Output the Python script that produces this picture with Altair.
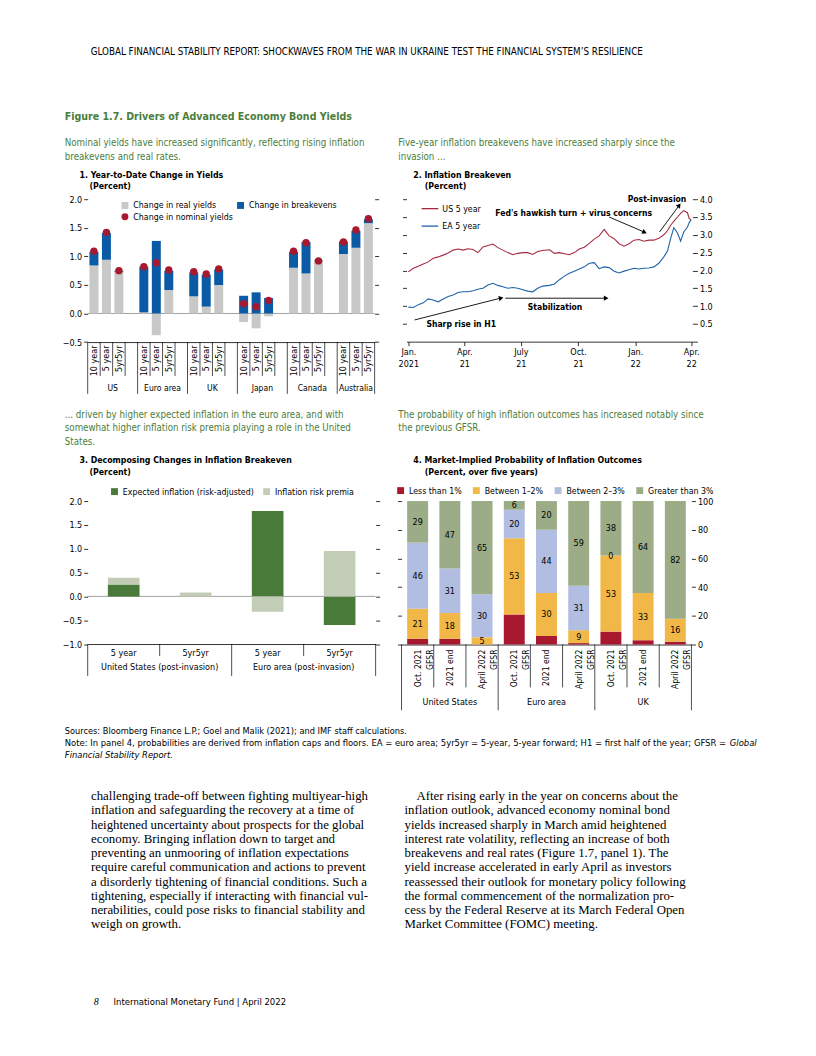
import math
import altair as alt
import pandas as pd

SANS = "Liberation Sans Narrow, DejaVu Sans Condensed, Roboto Condensed, Arial Narrow, sans-serif"
SERIF = "Liberation Serif, DejaVu Serif, serif"
GREEN_TXT = "#4b7d3c"

# ---------------- Panel 1 data ----------------
countries = ["US", "Euro area", "UK", "Japan", "Canada", "Australia"]
maturities = ["10 year", "5 year", "5yr5yr"]
real_yields = [0.84, 0.94, 0.73, 0.02, -0.38, 0.41, 0.30, 0.12, 0.50,
               -0.15, -0.26, -0.05, 0.80, 0.70, 0.92, 1.04, 1.15, 1.58]
breakevens = [0.24, 0.47, 0.02, 0.80, 1.27, 0.34, 0.42, 0.56, 0.27,
              0.31, 0.37, 0.27, 0.28, 0.55, 0.01, 0.22, 0.30, 0.07]
nominal_yields = [1.09, 1.42, 0.75, 0.82, 0.89, 0.76, 0.73, 0.69, 0.78,
                  0.17, 0.12, 0.23, 1.09, 1.24, 0.92, 1.25, 1.46, 1.66]

# ---------------- Panel 2 data ----------------
p2_dates = [
    "2021-01-01", "2021-01-09", "2021-01-17", "2021-01-25", "2021-02-02", "2021-02-10",
    "2021-02-18", "2021-02-26", "2021-03-06", "2021-03-14", "2021-03-22", "2021-03-30",
    "2021-04-07", "2021-04-15", "2021-04-23", "2021-05-01", "2021-05-09", "2021-05-17",
    "2021-05-25", "2021-06-02", "2021-06-10", "2021-06-18", "2021-06-26", "2021-07-04",
    "2021-07-12", "2021-07-20", "2021-07-28", "2021-08-05", "2021-08-16", "2021-08-24",
    "2021-09-01", "2021-09-09", "2021-09-17", "2021-09-25", "2021-10-03", "2021-10-11",
    "2021-10-19", "2021-10-27", "2021-11-04", "2021-11-12", "2021-11-20", "2021-11-28",
    "2021-12-06", "2021-12-14", "2021-12-22", "2021-12-30", "2022-01-07", "2022-01-15",
    "2022-01-23", "2022-01-31", "2022-02-08", "2022-02-16", "2022-02-22", "2022-02-27",
    "2022-03-04", "2022-03-10", "2022-03-15", "2022-03-20", "2022-03-26", "2022-03-29",
    "2022-04-01"]
us_5y = [1.96, 2.06, 2.12, 2.18, 2.24, 2.34, 2.38, 2.43, 2.49, 2.57, 2.60, 2.57,
         2.61, 2.59, 2.50, 2.66, 2.70, 2.74, 2.64, 2.57, 2.50, 2.44, 2.48, 2.50,
         2.50, 2.45, 2.53, 2.56, 2.58, 2.48, 2.50, 2.47, 2.44, 2.50, 2.60, 2.65,
         2.76, 2.88, 2.97, 3.15, 2.97, 2.89, 2.75, 2.68, 2.75, 2.85, 2.87, 2.82,
         2.85, 2.85, 2.90, 3.00, 3.12, 3.27, 3.38, 3.50, 3.60, 3.68, 3.62, 3.45,
         3.43]
ea_5y = [0.97, 0.96, 1.04, 1.09, 1.20, 1.17, 1.12, 1.20, 1.27, 1.31, 1.38, 1.40,
         1.40, 1.43, 1.47, 1.50, 1.59, 1.64, 1.58, 1.54, 1.50, 1.52, 1.50, 1.46,
         1.42, 1.40, 1.50, 1.56, 1.58, 1.62, 1.74, 1.84, 1.92, 1.98, 2.04, 2.10,
         2.20, 2.22, 2.05, 2.10, 2.08, 1.98, 1.93, 1.98, 2.02, 2.06, 2.04, 2.06,
         2.07, 2.10, 2.20, 2.38, 2.55, 2.90, 3.20, 3.05, 2.82, 3.08, 3.22, 3.35,
         3.42]
ann_text = ["Post-invasion", "Fed's hawkish turn + virus concerns", "Stabilization", "Sharp rise in H1"]
ann_date = ["2022-02-05", "2021-09-24", "2021-08-25", "2021-03-27"]
ann_val = [4.01, 3.62, 0.96, 0.49]
arr_date1 = ["2022-02-09", "2021-11-20", "2021-06-06", "2021-01-11"]
arr_val1 = [3.08, 3.50, 1.22, 0.61]
arr_date2 = ["2022-03-12", "2022-01-15", "2021-11-14", "2021-05-29"]
arr_val2 = [3.81, 3.08, 1.22, 1.22]

# ---------------- Panel 3 data ----------------
p3_regions = ["United States (post-invasion)", "Euro area (post-invasion)"]
p3_tenors = ["5 year", "5yr5yr"]
expected_infl = [0.25, 0.00, 1.79, -0.60]
risk_premia = [0.14, 0.08, -0.32, 0.95]

# ---------------- Panel 4 data ----------------
p4_regions = ["United States", "Euro area", "UK"]
p4_vintages = ["Oct. 2021|GFSR", "2021 end", "April 2022|GFSR"]
p4_buckets = ["Less than 1%", "Between 1–2%", "Between 2–3%", "Greater than 3%"]
less_1 = [4, 4, 0, 21, 6, 1, 9, 3, 2]
btw_1_2 = [21, 18, 5, 53, 30, 9, 53, 33, 16]
btw_2_3 = [46, 31, 30, 20, 44, 31, 0, 0, 0]
gt_3 = [29, 47, 65, 6, 20, 59, 38, 64, 82]
btw_2_3_labelled = [True, True, True, True, True, True, True, False, False]

# ---------------- helpers ----------------
DUMMY = pd.DataFrame({"d": [0]})


def T(text, x, y, size=9.5, color="black", weight="normal", style="normal",
      align="left", font=SANS):
    return alt.Chart(DUMMY).mark_text(
        text=text, align=align, baseline="middle", fontSize=size, color=color,
        fontWeight=weight, fontStyle=style, font=font
    ).encode(x=alt.value(x), y=alt.value(y))


def spacer(w):
    return alt.Chart(DUMMY).mark_point(opacity=0).encode(
        x=alt.value(0), y=alt.value(0)).properties(width=w, height=1)


LBL = 9.0
LEG = 8.8
GREEN_SIZE = 9.7
PT_SIZE = 8.8

# ================= Panel 1 =================
P1_W, P1_H = 288, 143.4
p1_keys, p1_data_keys = [], []
for gi, c in enumerate(countries):
    for m in maturities:
        p1_keys.append(c + "|" + m)
        p1_data_keys.append(c + "|" + m)
    if gi < len(countries) - 1:
        p1_keys.append("~" * (gi + 1))
n1 = len(p1_data_keys)
df1 = pd.DataFrame({
    "key": p1_data_keys * 2,
    "val": real_yields + breakevens,
    "comp": ["Change in real yields"] * n1 + ["Change in breakevens"] * n1,
    "ord": [0] * n1 + [1] * n1,
})
df1n = pd.DataFrame({"key": p1_data_keys, "nom": nominal_yields,
                     "lab": ["Change in nominal yields"] * n1})
df1r = pd.DataFrame({"key": p1_keys,
                     "long": [("|" in k and k.split("|")[1] == maturities[0]) for k in p1_keys]})
# group labels: centred between the long separators
df1g = pd.DataFrame({"country": countries[:-1], "key": [c + "|" + maturities[2] for c in countries[:-1]]})
df1g_last = pd.DataFrame({"country": [countries[-1]], "key": [countries[-1] + "|" + maturities[1]]})

xs1 = alt.Scale(domain=p1_keys, paddingInner=0, paddingOuter=0)
xax1 = alt.Axis(title=None, labelAngle=-90, ticks=False, tickSize=0, labelPadding=3,
                labelExpr="indexof(datum.value, '|') > 0 ? split(datum.value, '|')[1] : ''",
                domainColor="black", domainWidth=0.8, grid=False, labelFontSize=LBL)
ys1 = alt.Scale(domain=[-0.5, 2.0], nice=False, zero=False)
y1_vals = [-0.5, 0, 0.5, 1.0, 1.5, 2.0]
yax1 = alt.Axis(title=None, values=y1_vals, format=".1f", tickSize=4, labelPadding=2,
                domain=False, grid=False, orient="left")
yax1r = alt.Axis(title=None, values=y1_vals, labels=False, tickSize=4, domain=False,
                 grid=False, orient="right")
cs1 = alt.Scale(domain=["Change in real yields", "Change in breakevens"],
                range=["#c8c8c8", "#0b5aa6"])
fs1 = alt.Scale(domain=["Change in nominal yields"], range=["#a6192e"])
leg1 = alt.Legend(title=None, orient="none", legendX=33, legendY=1.5, direction="horizontal",
                  columnPadding=20, symbolType="square", symbolSize=48,
                  symbolStrokeWidth=0, labelFontSize=LEG, labelColor="black", padding=0)
leg1b = alt.Legend(title=None, orient="none", legendX=33, legendY=13.2, direction="horizontal",
                   symbolType="circle", symbolSize=48, symbolStrokeWidth=0,
                   labelFontSize=LEG, labelColor="black", padding=0)


def x1(**kw):
    return alt.X("key:N", scale=xs1, axis=xax1, **kw)


bars1 = alt.Chart(df1).mark_bar(width=alt.RelativeBandSize(0.72)).encode(
    x=x1(), y=alt.Y("val:Q", scale=ys1, axis=yax1, stack="zero"),
    color=alt.Color("comp:N", scale=cs1, legend=leg1), order=alt.Order("ord:Q"))
dots1 = alt.Chart(df1n).mark_circle(size=55, opacity=1).encode(
    x=x1(), y=alt.Y("nom:Q", scale=ys1, axis=yax1),
    fill=alt.Fill("lab:N", scale=fs1, legend=leg1b))
rs1 = alt.Chart(df1r).transform_filter("!datum.long").mark_rule(color="black", strokeWidth=0.7).encode(
    x=x1(bandPosition=0), y=alt.value(P1_H), y2=alt.value(P1_H + 34))
rl1 = alt.Chart(df1r).transform_filter("datum.long").mark_rule(color="black", strokeWidth=0.7).encode(
    x=x1(bandPosition=0), y=alt.value(P1_H), y2=alt.value(P1_H + 52))
re1 = alt.Chart(pd.DataFrame({"key": [p1_keys[-1]]})).mark_rule(color="black", strokeWidth=0.7).encode(
    x=x1(bandPosition=1), y=alt.value(P1_H), y2=alt.value(P1_H + 52))
gl1 = alt.Chart(df1g).mark_text(fontSize=8.6, baseline="middle").encode(
    x=x1(bandPosition=0), y=alt.value(P1_H + 46), text="country:N")
gl1b = alt.Chart(df1g_last).mark_text(fontSize=8.6, baseline="middle").encode(
    x=x1(bandPosition=0.5), y=alt.value(P1_H + 46), text="country:N")
zero1 = alt.Chart(DUMMY).mark_rule(color="#8a8a8a", strokeWidth=0.8).encode(
    y=alt.YDatum(0, scale=ys1, axis=yax1r))
panel1 = alt.layer(zero1, alt.layer(bars1, dots1, rs1, rl1, re1, gl1, gl1b)).resolve_scale(
    y="independent").properties(width=P1_W, height=P1_H)

# ================= Panel 2 =================
P2_W, P2_H = 287, 143
d_start, d_end = pd.Timestamp("2020-12-29"), pd.Timestamp("2022-04-03")
span = (d_end - d_start).days
n2 = len(p2_dates)
df2 = pd.DataFrame({"date": p2_dates * 2, "val": us_5y + ea_5y,
                    "series": ["US 5 year"] * n2 + ["EA 5 year"] * n2})
xs2 = alt.Scale(type="utc", domain=[alt.DateTime(year=2020, month=12, date=29, utc=True),
                                    alt.DateTime(year=2022, month=4, date=3, utc=True)])
q_ticks = [alt.DateTime(year=y, month=m, date=1, utc=True)
           for (y, m) in [(2021, 1), (2021, 4), (2021, 7), (2021, 10), (2022, 1), (2022, 4)]]
xax2 = alt.Axis(title=None, values=q_ticks, tickSize=4, labelPadding=2, grid=False,
                domainColor="black", domainWidth=0.8, labelLineHeight=12, labelFontSize=LBL,
                labelExpr="[utcFormat(datum.value, '%m') == '07' ? 'July' : utcFormat(datum.value, '%b') + '.', "
                          "utcFormat(datum.value, '%Y-%m') == '2021-01' ? '2021' : utcFormat(datum.value, '%y')]")
ys2 = alt.Scale(domain=[0, 4], nice=False, zero=False)
y2_vals = [0.5, 1.0, 1.5, 2.0, 2.5, 3.0, 3.5, 4.0]
yax2 = alt.Axis(title=None, values=y2_vals, labels=False, tickSize=4, domain=False, grid=False,
                orient="left")
yax2r = alt.Axis(title=None, values=[0] + y2_vals, format=".1f", tickSize=5, labelPadding=2,
                 domain=False, grid=False, orient="right",
                 labelExpr="datum.value == 0 ? '' : format(datum.value, '.1f')")
cs2 = alt.Scale(domain=["US 5 year", "EA 5 year"], range=["#a82a40", "#1f63a8"])
leg2 = alt.Legend(title=None, orient="none", legendX=14, legendY=0, direction="vertical",
                  symbolType="stroke", symbolSize=280, symbolStrokeWidth=1.3, labelOffset=3,
                  rowPadding=2.5, labelFontSize=LEG, labelColor="black", padding=0)


def x2(field="date"):
    return alt.X(field + ":T", scale=xs2, axis=xax2)


lines2 = alt.Chart(df2).mark_line(strokeWidth=1.1).encode(
    x=x2(), y=alt.Y("val:Q", scale=ys2, axis=yax2),
    color=alt.Color("series:N", scale=cs2, legend=leg2), detail="series:N")
dfa = pd.DataFrame({"date": ann_date, "val": ann_val, "txt": ann_text})
ann2 = alt.Chart(dfa).mark_text(fontSize=8.6, fontWeight="bold", baseline="middle").encode(
    x=x2(), y=alt.Y("val:Q", scale=ys2, axis=yax2), text="txt:N")


def px2(d, v):
    return ((pd.Timestamp(d) - d_start).days / span * P2_W, P2_H - v / 4 * P2_H)


angles = []
for a, b, c, d in zip(arr_date1, arr_val1, arr_date2, arr_val2):
    (xa, ya), (xb, yb) = px2(a, b), px2(c, d)
    angles.append(math.degrees(math.atan2(xb - xa, -(yb - ya))) % 360)
dfarr = pd.DataFrame({"d1": arr_date1, "v1": arr_val1, "d2": arr_date2, "v2": arr_val2, "ang": angles})
arrl2 = alt.Chart(dfarr).mark_rule(color="black", strokeWidth=0.9).encode(
    x=x2("d1"), y=alt.Y("v1:Q", scale=ys2, axis=yax2), x2="d2:T", y2="v2:Q")
arrh2 = alt.Chart(dfarr).mark_point(shape="triangle", filled=True, size=28, color="black",
                                     opacity=1).encode(
    x=x2("d2"), y=alt.Y("v2:Q", scale=ys2, axis=yax2), angle=alt.Angle("ang:Q", scale=None))
right2 = alt.Chart(DUMMY).mark_rule(opacity=0).encode(y=alt.YDatum(0, scale=ys2, axis=yax2r))
panel2 = alt.layer(right2, alt.layer(lines2, arrl2, arrh2, ann2)).resolve_scale(
    y="independent").properties(width=P2_W, height=P2_H)

# ================= Panel 3 =================
P3_W, P3_H = 289, 143.5
p3_short = ["US", "EA"]
p3_keys = [r + "|" + t for r in p3_short for t in p3_tenors]
df3 = pd.DataFrame({
    "key": p3_keys * 2, "val": expected_infl + risk_premia,
    "comp": ["Expected inflation (risk-adjusted)"] * 4 + ["Inflation risk premia"] * 4,
    "ord": [0] * 4 + [1] * 4})
df3r = pd.DataFrame({"key": p3_keys, "long": [k.endswith("|" + p3_tenors[0]) for k in p3_keys]})
df3g = pd.DataFrame({"region": p3_regions, "key": [r + "|" + p3_tenors[1] for r in p3_short]})
xs3 = alt.Scale(domain=p3_keys, paddingInner=0, paddingOuter=0)
xax3 = alt.Axis(title=None, labelAngle=0, ticks=False, tickSize=0, labelPadding=5,
                labelExpr="split(datum.value, '|')[1]", domainColor="black", domainWidth=0.8,
                grid=False, labelFontSize=LBL)
ys3 = alt.Scale(domain=[-1, 2], nice=False, zero=False)
y3_vals = [-1.0, -0.5, 0, 0.5, 1.0, 1.5, 2.0]
yax3 = alt.Axis(title=None, values=y3_vals, format=".1f", tickSize=4, labelPadding=2,
                domain=False, grid=False, orient="left")
yax3r = alt.Axis(title=None, values=y3_vals, labels=False, tickSize=4, domain=False, grid=False,
                 orient="right")
cs3 = alt.Scale(domain=["Expected inflation (risk-adjusted)", "Inflation risk premia"],
                range=["#4a7a3a", "#c3ccb6"])
leg3 = alt.Legend(title=None, orient="none", legendX=22.5, legendY=-14.3, direction="horizontal",
                  symbolType="square", symbolSize=48, symbolStrokeWidth=0, columnPadding=7.7,
                  labelFontSize=LEG, labelColor="black", padding=0)


def x3(**kw):
    return alt.X("key:N", scale=xs3, axis=xax3, **kw)


bars3 = alt.Chart(df3).mark_bar(width=alt.RelativeBandSize(0.44)).encode(
    x=x3(), y=alt.Y("val:Q", scale=ys3, axis=yax3, stack="zero"),
    color=alt.Color("comp:N", scale=cs3, legend=leg3), order=alt.Order("ord:Q"))
rs3 = alt.Chart(df3r).transform_filter("!datum.long").mark_rule(color="black", strokeWidth=0.7).encode(
    x=x3(bandPosition=0), y=alt.value(P3_H), y2=alt.value(P3_H + 12))
rl3 = alt.Chart(df3r).transform_filter("datum.long").mark_rule(color="black", strokeWidth=0.7).encode(
    x=x3(bandPosition=0), y=alt.value(P3_H), y2=alt.value(P3_H + 32))
re3 = alt.Chart(pd.DataFrame({"key": [p3_keys[-1]]})).mark_rule(color="black", strokeWidth=0.7).encode(
    x=x3(bandPosition=1), y=alt.value(P3_H), y2=alt.value(P3_H + 32))
gl3 = alt.Chart(df3g).mark_text(fontSize=LBL, baseline="middle").encode(
    x=x3(bandPosition=0), y=alt.value(P3_H + 23.5), text="region:N")
zero3 = alt.Chart(DUMMY).mark_rule(color="#8a8a8a", strokeWidth=0.8).encode(
    y=alt.YDatum(0, scale=ys3, axis=yax3r))
panel3 = alt.layer(zero3, alt.layer(bars3, rs3, rl3, re3, gl3)).resolve_scale(
    y="independent").properties(width=P3_W, height=P3_H)

# ================= Panel 4 =================
P4_W, P4_H = 291, 144
p4_keys = [r + "#" + v for r in p4_regions for v in p4_vintages]
n4 = len(p4_keys)
series4 = [less_1, btw_1_2, btw_2_3, gt_3]
show4 = [[False] * n4, [True] * n4, btw_2_3_labelled, [True] * n4]
rows4 = []
for bi, (b, vals, shows) in enumerate(zip(p4_buckets, series4, show4)):
    for k, v, s in zip(p4_keys, vals, shows):
        rows4.append({"key": k, "bucket": b, "val": v, "ord": bi, "show": s})
df4 = pd.DataFrame(rows4)
df4r = pd.DataFrame({"key": p4_keys, "long": [k.endswith("#" + p4_vintages[0]) for k in p4_keys]})
df4g = pd.DataFrame({"region": p4_regions, "key": [r + "#" + p4_vintages[1] for r in p4_regions]})
xs4 = alt.Scale(domain=p4_keys, paddingInner=0, paddingOuter=0)
xax4 = alt.Axis(title=None, labelAngle=-90, ticks=False, tickSize=0, labelPadding=4.5,
                labelExpr="split(split(datum.value, '#')[1], '|')", labelLineHeight=12,
                domainColor="black", domainWidth=0.8, grid=False, labelFontSize=8.6)
ys4 = alt.Scale(domain=[0, 100], nice=False, zero=False)
y4_vals = [0, 20, 40, 60, 80, 100]
yax4 = alt.Axis(title=None, values=y4_vals, labels=False, tickSize=4, domain=False, grid=False,
                orient="left")
yax4r = alt.Axis(title=None, values=y4_vals, format="d", tickSize=4, labelPadding=2,
                 domain=False, grid=False, orient="right")
cs4 = alt.Scale(domain=p4_buckets, range=["#a8192f", "#f2b847", "#b2bde2", "#9bac87"])
leg4 = alt.Legend(title=None, orient="none", legendX=-5.3, legendY=-15.3, direction="horizontal",
                  symbolType="square", symbolSize=48, symbolStrokeWidth=0, columnPadding=10,
                  labelFontSize=LEG, labelColor="black", padding=0)


def x4(**kw):
    return alt.X("key:N", scale=xs4, axis=xax4, **kw)


bars4 = alt.Chart(df4).mark_bar(width=alt.RelativeBandSize(0.65)).encode(
    x=x4(), y=alt.Y("val:Q", scale=ys4, axis=yax4, stack="zero"),
    color=alt.Color("bucket:N", scale=cs4, legend=leg4), order=alt.Order("ord:Q"))
txt4 = alt.Chart(df4).transform_stack(
    stack="val", as_=["y0", "y1"], groupby=["key"], sort=[alt.SortField("ord", order="ascending")]
).transform_calculate(mid="(datum.y0 + datum.y1) / 2").transform_filter("datum.show").mark_text(
    fontSize=LBL, baseline="middle", color="black").encode(
    x=x4(), y=alt.Y("mid:Q", scale=ys4, axis=yax4), text=alt.Text("val:Q", format="d"))
rs4 = alt.Chart(df4r).transform_filter("!datum.long").mark_rule(color="black", strokeWidth=0.7).encode(
    x=x4(bandPosition=0), y=alt.value(P4_H), y2=alt.value(P4_H + 43))
rl4 = alt.Chart(df4r).transform_filter("datum.long").mark_rule(color="black", strokeWidth=0.7).encode(
    x=x4(bandPosition=0), y=alt.value(P4_H), y2=alt.value(P4_H + 66))
re4 = alt.Chart(pd.DataFrame({"key": [p4_keys[-1]]})).mark_rule(color="black", strokeWidth=0.7).encode(
    x=x4(bandPosition=1), y=alt.value(P4_H), y2=alt.value(P4_H + 66))
gl4 = alt.Chart(df4g).mark_text(fontSize=LBL, baseline="middle").encode(
    x=x4(), y=alt.value(P4_H + 58), text="region:N")
right4 = alt.Chart(DUMMY).mark_rule(opacity=0).encode(y=alt.YDatum(0, scale=ys4, axis=yax4r))
panel4 = alt.layer(right4, alt.layer(bars4, txt4, rs4, rl4, re4, gl4)).resolve_scale(
    y="independent").properties(width=P4_W, height=P4_H)

# ================= page text =================
top = alt.layer(
    T("GLOBAL FINANCIAL STABILITY REPORT: SHOCKWAVES FROM THE WAR IN UKRAINE TEST THE FINANCIAL SYSTEM\u2019S RESILIENCE",
      80, 42, size=9.8),
    T("Figure 1.7. Drivers of Advanced Economy Bond Yields", 54, 107, size=10.6, weight="bold", color=GREEN_TXT),
    T("Nominal yields have increased significantly, reflecting rising inflation", 54, 133.7, size=GREEN_SIZE, color=GREEN_TXT),
    T("breakevens and real rates.", 54, 147.7, size=GREEN_SIZE, color=GREEN_TXT),
    T("1. Year-to-Date Change in Yields", 68.7, 165.3, size=PT_SIZE, weight="bold"),
    T("(Percent)", 78.7, 177, size=PT_SIZE, weight="bold"),
    T("Five-year inflation breakevens have increased sharply since the", 388.7, 133.7, size=GREEN_SIZE, color=GREEN_TXT),
    T("invasion ...", 388.7, 147.7, size=GREEN_SIZE, color=GREEN_TXT),
    T("2. Inflation Breakeven", 403.7, 165.3, size=PT_SIZE, weight="bold"),
    T("(Percent)", 415.3, 177, size=PT_SIZE, weight="bold"),
).properties(width=800, height=189.3)

# mid canvas starts at page y 197.3
mid = alt.layer(
    T("... driven by higher expected inflation in the euro area, and with", 54, 216.7, size=GREEN_SIZE, color=GREEN_TXT),
    T("somewhat higher inflation risk premia playing a role in the United", 54, 229.9, size=GREEN_SIZE, color=GREEN_TXT),
    T("States.", 54, 243.4, size=GREEN_SIZE, color=GREEN_TXT),
    T("3. Decomposing Changes in Inflation Breakeven", 68.7, 261.4, size=PT_SIZE, weight="bold"),
    T("(Percent)", 78.7, 273.4, size=PT_SIZE, weight="bold"),
    T("The probability of high inflation outcomes has increased notably since", 388.7, 216.7, size=GREEN_SIZE, color=GREEN_TXT),
    T("the previous GFSR.", 388.7, 229.9, size=GREEN_SIZE, color=GREEN_TXT),
    T("4. Market-Implied Probability of Inflation Outcomes", 403.7, 261.4, size=PT_SIZE, weight="bold"),
    T("(Percent, over five years)", 415.3, 273.4, size=PT_SIZE, weight="bold"),
).properties(width=800, height=302.2)

left_body = [
    "challenging trade-off between fighting multiyear-high",
    "inflation and safeguarding the recovery at a time of",
    "heightened uncertainty about prospects for the global",
    "economy. Bringing inflation down to target and",
    "preventing an unmooring of inflation expectations",
    "require careful communication and actions to prevent",
    "a disorderly tightening of financial conditions. Such a",
    "tightening, especially if interacting with financial vul-",
    "nerabilities, could pose risks to financial stability and",
    "weigh on growth.",
]
right_body = [
    "After rising early in the year on concerns about the",
    "inflation outlook, advanced economy nominal bond",
    "yields increased sharply in March amid heightened",
    "interest rate volatility, reflecting an increase of both",
    "breakevens and real rates (Figure 1.7, panel 1). The",
    "yield increase accelerated in early April as investors",
    "reassessed their outlook for monetary policy following",
    "the formal commencement of the normalization pro-",
    "cess by the Federal Reserve at its March Federal Open",
    "Market Committee (FOMC) meeting.",
]
# bottom canvas starts at page y 499.5
bottom_layers = [
    T("Sources: Bloomberg Finance L.P.; Goel and Malik (2021); and IMF staff calculations.", 54, 231, size=9.2),
    T("Note: In panel 4, probabilities are derived from inflation caps and floors. EA = euro area; 5yr5yr = 5-year, "
      "5-year forward; H1 = first half of the year; GFSR =", 54, 243, size=9.4),
    T("Global", 721.5, 243, size=9.4, style="italic"),
    T("Financial Stability Report.", 54, 255, size=9.4, style="italic"),
]
for i, line in enumerate(left_body):
    bottom_layers.append(T(line, 80.3, 296.2 + 14.3 * i, size=12.9, font=SERIF))
for i, line in enumerate(right_body):
    bottom_layers.append(T(line, 407 if i == 0 else 395, 296.2 + 14.3 * i, size=12.9, font=SERIF))
bottom_layers.append(T("8", 83, 502.5, size=10, style="italic", font=SERIF))
bottom_layers.append(T("International Monetary Fund | April 2022", 103, 502.5, size=9.5))
bottom = alt.layer(*bottom_layers).properties(width=800, height=530)

row1 = alt.hconcat(spacer(77), panel1, spacer(32), panel2, spacing=0, bounds="flush").resolve_scale(
    color="independent", fill="independent")
row3 = alt.hconcat(spacer(77), panel3, spacer(26), panel4, spacing=0, bounds="flush").resolve_scale(
    color="independent", fill="independent")

chart = alt.vconcat(top, row1, mid, row3, bottom, spacing=0, bounds="flush").resolve_scale(
    color="independent", fill="independent"
).properties(
    padding=0
).configure(font=SANS).configure_view(strokeWidth=0).configure_axis(
    labelColor="black", tickColor="black", tickWidth=0.8, labelFontSize=LBL
)

chart.save("out.html", embed_options={"renderer": "svg", "actions": False})
